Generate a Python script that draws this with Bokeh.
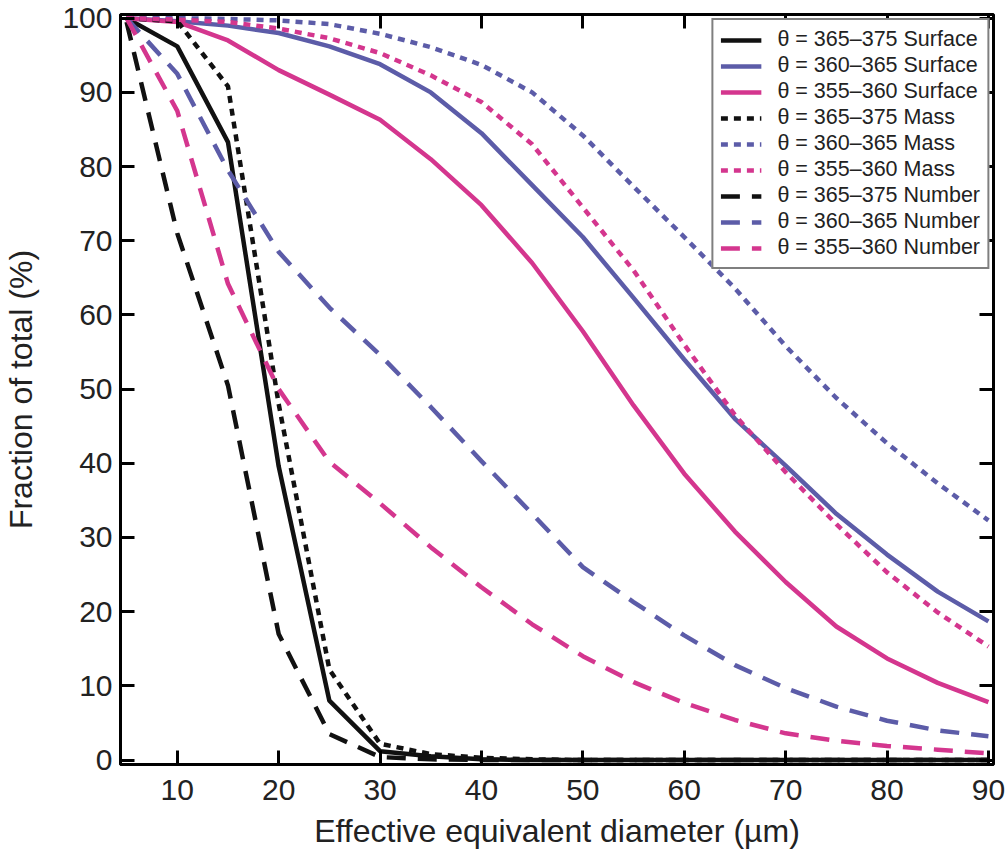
from bokeh.plotting import figure
from bokeh.models import Range1d, FixedTicker, LinearAxis
from bokeh.embed import file_html
from bokeh.resources import INLINE

# ---- data ----
diameter = [5, 10, 15, 20, 25, 30, 35, 40, 45, 50, 55, 60, 65, 70, 75, 80, 85, 90]

surface_365_375 = [100, 96.2, 83.3, 39.6, 8.0, 1.2, 0.5, 0.1, 0, 0, 0, 0, 0, 0, 0, 0, 0, 0]
surface_360_365 = [100, 99.6, 99.0, 98.0, 96.2, 93.8, 90.0, 84.5, 77.5, 70.5, 62.3, 54.0, 46.0, 39.7, 33.2, 27.7, 22.7, 18.7]
surface_355_360 = [100, 99.5, 97.0, 93.0, 89.7, 86.3, 81.0, 74.8, 67.0, 57.8, 47.8, 38.6, 30.8, 24.0, 18.0, 13.7, 10.4, 7.8]

mass_365_375 = [100, 99.6, 90.8, 48.0, 12.2, 2.2, 0.8, 0.3, 0.1, 0, 0, 0, 0, 0, 0, 0, 0, 0]
mass_360_365 = [100, 100, 99.9, 99.7, 99.2, 97.9, 96.1, 93.7, 90.0, 84.2, 77.3, 70.5, 63.6, 55.8, 48.8, 42.7, 37.3, 32.3]
mass_355_360 = [100, 99.8, 99.5, 98.6, 97.3, 95.3, 92.3, 88.7, 83.0, 74.5, 66.0, 56.0, 46.5, 38.8, 31.8, 25.3, 19.9, 15.3]

number_365_375 = [99.5, 71.0, 50.5, 17.0, 3.5, 0.4, 0.1, 0, 0, 0, 0, 0, 0, 0, 0, 0, 0, 0]
number_360_365 = [100, 92.5, 79.5, 68.5, 61.0, 54.6, 47.6, 40.3, 33.2, 26.0, 21.3, 16.8, 12.8, 9.7, 7.2, 5.3, 4.0, 3.2]
number_355_360 = [100, 87.5, 64.2, 50.0, 40.2, 34.6, 28.7, 23.3, 18.3, 14.0, 10.5, 7.7, 5.4, 3.6, 2.6, 1.9, 1.4, 0.9]

x_ticks = [10, 20, 30, 40, 50, 60, 70, 80, 90]
y_ticks = [0, 10, 20, 30, 40, 50, 60, 70, 80, 90, 100]
x_start, x_end = 4.4, 90.5
y_start, y_end = -0.6, 100.5

BLACK = "#111111"
BLUE = "#5c5ca8"
PINK = "#d4368e"

series = [
    (surface_365_375, BLACK, "solid", "θ = 365–375 Surface"),
    (surface_360_365, BLUE, "solid", "θ = 360–365 Surface"),
    (surface_355_360, PINK, "solid", "θ = 355–360 Surface"),
    (mass_365_375, BLACK, "7 6", "θ = 365–375 Mass"),
    (mass_360_365, BLUE, "7 6", "θ = 360–365 Mass"),
    (mass_355_360, PINK, "7 6", "θ = 355–360 Mass"),
    (number_365_375, BLACK, "19 12", "θ = 365–375 Number"),
    (number_360_365, BLUE, "19 12", "θ = 360–365 Number"),
    (number_355_360, PINK, "19 12", "θ = 355–360 Number"),
]

FONT = "Liberation Sans"
TXT = "#222222"

p = figure(width=1005, height=864, output_backend="svg", toolbar_location=None,
           x_range=Range1d(x_start, x_end), y_range=Range1d(y_start, y_end),
           min_border_left=120, min_border_right=12, min_border_top=14, min_border_bottom=100)
p.grid.visible = False
p.outline_line_color = "black"
p.outline_line_width = 3

for ys, col, dash, lab in series:
    p.line(diameter, ys, line_color=col, line_width=4.5, line_dash=dash, legend_label=lab)

def style_axis(ax, ticks, labels=True):
    ax.ticker = FixedTicker(ticks=ticks)
    ax.axis_line_width = 3
    ax.axis_line_color = "black"
    ax.major_tick_in = 14
    ax.major_tick_out = 0
    ax.major_tick_line_width = 3
    ax.minor_tick_line_color = None
    if labels:
        ax.major_label_text_font = FONT
        ax.major_label_text_font_size = "30px"
        ax.major_label_text_color = TXT
        ax.axis_label_text_font = FONT
        ax.axis_label_text_font_size = "32px"
        ax.axis_label_text_font_style = "normal"
        ax.axis_label_text_color = TXT
    else:
        ax.major_label_overrides = {t: "" for t in ticks}
        ax.major_label_text_font_size = "0px"
        ax.major_label_standoff = 0
        ax.axis_label_standoff = 0
        ax.axis_label_text_font_size = "0px"

xa = p.xaxis[0]
style_axis(xa, x_ticks)
xa.axis_label = "Effective equivalent diameter (µm)"
xa.major_label_standoff = 15
xa.axis_label_standoff = 10

ya = p.yaxis[0]
style_axis(ya, y_ticks)
ya.axis_label = "Fraction of total (%)"
ya.major_label_standoff = 8
ya.axis_label_standoff = 20

# tick marks on the top and right frame edges (no labels, take no panel space)
top = LinearAxis(fixed_location=y_end)
style_axis(top, x_ticks, labels=False)
p.add_layout(top, "above")
right = LinearAxis(fixed_location=x_end)
style_axis(right, y_ticks, labels=False)
p.add_layout(right, "right")

lg = p.legend[0]
lg.location = "top_right"
lg.margin = 4
lg.padding = 7
lg.spacing = 1
lg.glyph_width = 41
lg.glyph_height = 20
lg.label_height = 20
lg.label_standoff = 16
lg.label_text_font = FONT
lg.label_text_font_size = "21.5px"
lg.label_text_color = TXT
lg.border_line_color = "black"
lg.border_line_width = 2
lg.background_fill_color = "white"
lg.background_fill_alpha = 1.0

open("out.html", "w").write(file_html(p, INLINE))
